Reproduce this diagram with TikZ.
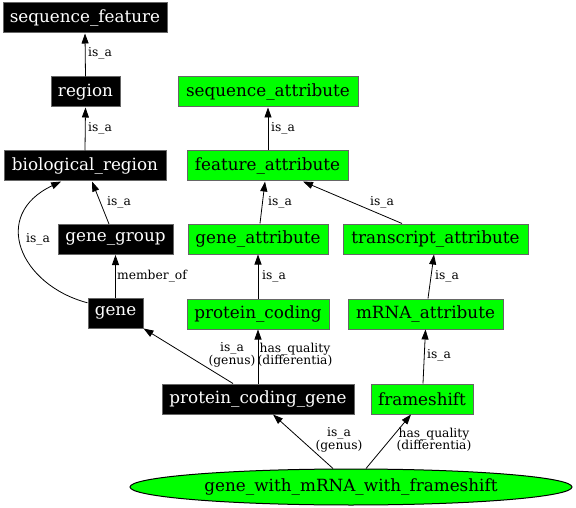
\documentclass[tikz,border=0pt]{standalone}
\usepackage{fontspec}
\setmainfont{DejaVu Serif}
\usetikzlibrary{arrows.meta,shapes.geometric}
\definecolor{gvgreen}{HTML}{00FF00}
\definecolor{gvborder}{HTML}{666666}
\tikzset{
  base/.style={rectangle, inner sep=0pt, minimum height=30pt, line width=1pt,
    font=\fontsize{16.8}{20}\selectfont},
  blk/.style={base, fill=black, draw=gvborder, text=white},
  grn/.style={base, fill=gvgreen, draw=gvborder, text=black},
  lbl/.style={inner sep=0pt, align=center, font=\fontsize{12.3}{12.5}\selectfont},
  edge/.style={line width=0.8pt, -{Triangle[length=10pt,width=7pt]}},
}
\begin{document}
\begin{tikzpicture}[x=1pt,y=-1pt]
\useasboundingbox[fill=white] (0,0) rectangle (576,508);
% black nodes
\node[blk, minimum width=164pt] (sf) at (85,18) {sequence\_feature};
\node[blk, minimum width=69pt] (region) at (85.5,92) {region};
\node[blk, minimum width=162pt] (bio) at (85,166) {biological\_region};
\node[blk, minimum width=115pt] (gg) at (115.5,239.5) {gene\_group};
\node[blk, minimum width=55pt] (gene) at (115.5,313) {gene};
\node[blk, minimum width=192pt] (pcg) at (258,399) {protein\_coding\_gene};
% green nodes
\node[grn, minimum width=180pt] (sa) at (268,92) {sequence\_attribute};
\node[grn, minimum width=161pt] (fa) at (267.5,166) {feature\_attribute};
\node[grn, minimum width=140pt] (ga) at (258,239) {gene\_attribute};
\node[grn, minimum width=185pt] (ta) at (435.5,239) {transcript\_attribute};
\node[grn, minimum width=142pt] (pc) at (258,314) {protein\_coding};
\node[grn, minimum width=155pt] (mrna) at (425.5,314) {mRNA\_attribute};
\node[grn, minimum width=102pt] (fs) at (422,399) {frameshift};
\node[ellipse, fill=gvgreen, draw=black, line width=1pt, inner sep=0pt,
      minimum width=442pt, minimum height=36pt,
      font=\fontsize{16.8}{20}\selectfont] (ell) at (351,487) {gene\_with\_mRNA\_with\_frameshift};
% edges
\draw[edge] (region.north) -- (sf.south);
\draw[edge] (bio.north) -- (region.south);
\draw[edge] ([xshift=-6.5pt]gg.north) -- ([xshift=7pt]bio.south);
\draw[edge] (gene.160) .. controls (20,285) and (-10,215) .. (bio.213);
\draw[edge] (gene.north) -- (gg.south);
\draw[edge] ([xshift=-25pt]pcg.north) -- (gene.south east);
\draw[edge] (pcg.north) -- (pc.south);
\draw[edge] ([xshift=-18pt]ell.north) -- ([xshift=15pt]pcg.south);
\draw[edge] ([xshift=15pt]ell.north) -- ([xshift=-11pt]fs.south);
\draw[edge] ([xshift=1pt]fs.north) -- (mrna.south);
\draw[edge] ([xshift=2.5pt]mrna.north) -- ([xshift=-1.5pt]ta.south);
\draw[edge] (pc.north) -- (ga.south);
\draw[edge] ([xshift=2pt]ga.north) -- ([xshift=-2.5pt]fa.south);
\draw[edge] ([xshift=-33.5pt]ta.north) -- ([xshift=35.5pt]fa.south);
\draw[edge] ([xshift=0.5pt]fa.north) -- (sa.south);
% labels
\node[lbl] (l1) at (100,53) {is\_a};
\node[lbl] (l2) at (100,128) {is\_a};
\node[lbl] (l3) at (119,202) {is\_a};
\node[lbl] (l4) at (38,239) {is\_a};
\node[lbl] (l5) at (152,276) {member\_of};
\node[lbl] (l6) at (232,355) {is\_a\\(genus)};
\node[lbl] (l7) at (295,355) {has\_quality\\(differentia)};
\node[lbl] (l8) at (339,440) {is\_a\\(genus)};
\node[lbl] (l9) at (434,440) {has\_quality\\(differentia)};
\node[lbl] (l10) at (439,355) {is\_a};
\node[lbl] (l11) at (447,276) {is\_a};
\node[lbl] (l12) at (274,276) {is\_a};
\node[lbl] (l13) at (280,202) {is\_a};
\node[lbl] (l14) at (382,202) {is\_a};
\node[lbl] (l15) at (283,128) {is\_a};
\end{tikzpicture}
\end{document}
